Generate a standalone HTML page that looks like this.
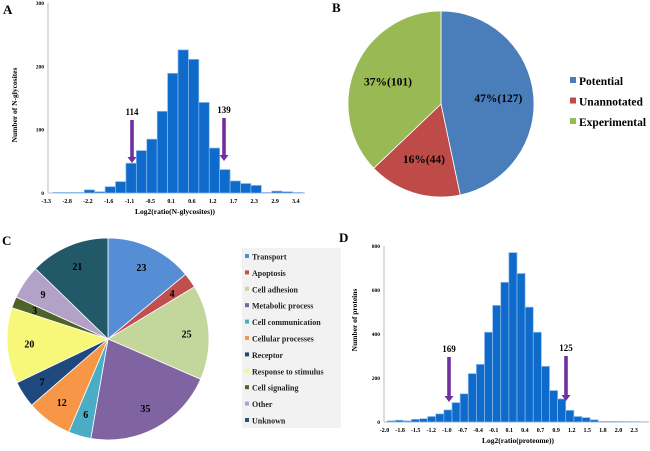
<!DOCTYPE html>
<html><head><meta charset="utf-8"><style>
body{margin:0;background:#fff}
svg{display:block;font-family:"Liberation Serif",serif;font-weight:bold}
</style></head><body>
<svg id="fig" width="650" height="451" viewBox="0 0 650 451"></svg>
<script>
// Panel A data
const aTicks=["-3.3","-2.8","-2.2","-1.6","-1.1","-0.5","0.1","0.6","1.2","1.7","2.3","2.9","3.4"];
const aValues=[1,1,1,5,2,10,18,47,67,85,129,189,226,211,143,71,37,19,15,12,1,3,2,1];
const aYTicks=[0,100,200,300];
// Panel D data
const dTicks=["-2.0","-1.8","-1.5","-1.2","-1.0","-0.7","-0.4","-0.1","0.1","0.4","0.7","0.9","1.2","1.5","1.8","2.0","2.3"];
const dValues=[5,8,5,12,15,25,37,55,88,128,220,262,408,530,635,770,675,522,408,253,143,105,53,25,20,10,3,3,3,2,2,1];
const dYTicks=[0,200,400,600,800];
// Panel B data
const bLabels=["Potential","Unannotated","Experimental"];
const bValues=[127,44,101];
const bText=["47%(127)","16%(44)","37%(101)"];
// Panel C data
const cLabels=["Transport","Apoptosis","Cell adhesion","Metabolic process","Cell communication","Cellular processes","Receptor","Response to stimulus","Cell signaling","Other","Unknown"];
const cValues=[23,4,25,35,6,12,7,20,3,9,21];

const NS="http://www.w3.org/2000/svg";
const svg=document.getElementById('fig');
function mk(tag,attrs,parent,text){const e=document.createElementNS(NS,tag);for(const k in attrs)e.setAttribute(k,attrs[k]);if(text!==undefined)e.textContent=text;(parent||svg).appendChild(e);return e;}

function hist(cfg){
  const g=mk('g',{});
  
  
  const y=v=>cfg.y0-(v/cfg.ymax)*(cfg.y0-cfg.ytop);
  const bw=(cfg.x1-cfg.x0)/cfg.values.length;
  const x=i=>cfg.x0+i*bw;
  const ax=mk('line',{x1:cfg.axX,y1:cfg.ytop,x2:cfg.axX,y2:cfg.y0,stroke:'#bbb','stroke-width':1},g);
  
  const bx=mk('line',{x1:cfg.axX,y1:cfg.y0,x2:cfg.x1+2,y2:cfg.y0,stroke:'#bbb','stroke-width':1},g);
  
  cfg.yTicks.forEach(t=>{
    const tx=mk('text',{x:cfg.axX-4,y:y(t)+2,'text-anchor':'end','font-size':5.5},g,String(t));
    
  });
  cfg.values.forEach((v,i)=>{
    const r=mk('rect',{x:x(i),y:y(v),width:bw,height:cfg.y0-y(v),fill:'#0f6bcb',stroke:'#8fbbea','stroke-width':0.7},g);
    
  });
  cfg.ticks.forEach((t,i)=>{
    const tx=mk('text',{x:cfg.lx0+i*cfg.lstep,y:cfg.ly,'text-anchor':'middle','font-size':cfg.tfs},g,t);
    
  });
  const xt=mk('text',{x:cfg.xtX,y:cfg.xtY,'text-anchor':'middle','font-size':7.5},g,cfg.xtitle);
  
  const yt=mk('text',{x:0,y:0,'text-anchor':'middle','font-size':7.5,transform:`translate(${cfg.ytX},${cfg.ytY}) rotate(-90)`},g,cfg.ytitle);
  
  cfg.arrows.forEach(a=>{
    const ar=mk('g',{},g);
    
    mk('rect',{x:a.x-1.8,y:a.y1,width:3.6,height:a.y2-a.y1-5,fill:'#7030a0'},ar);
    mk('path',{d:`M${a.x-4.5},${a.y2-6} L${a.x+4.5},${a.y2-6} L${a.x},${a.y2} Z`,fill:'#7030a0'},ar);
    mk('text',{x:a.x,y:a.y1-5,'text-anchor':'middle','font-size':9},ar,a.label);
  });
}
hist({name:'histogram-a',values:aValues,ticks:aTicks,yTicks:aYTicks,ymax:300,y0:193,ytop:3,x0:53,x1:303,axX:48,
  lx0:46.3,lstep:20.8,ly:203,tfs:6,xtitle:'Log2(ratio(N-glycosites))',xtX:175,xtY:214,ytitle:'Number of N-glycosites',ytX:17,ytY:105,
  arrows:[{x:132,y1:120,y2:163,label:'114'},{x:224,y1:118,y2:161,label:'139'}]});
hist({name:'histogram-d',values:dValues,ticks:dTicks,yTicks:dYTicks,ymax:800,y0:422,ytop:246,x0:387,x1:647,axX:384,
  lx0:384.5,lstep:15.6,ly:432,tfs:6,xtitle:'Log2(ratio(proteome))',xtX:518,xtY:443,ytitle:'Number of proteins',ytX:357,ytY:320,
  arrows:[{x:449,y1:357,y2:402,label:'169'},{x:566,y1:356,y2:401,label:'125'}]});

function pie(name,cx,cy,r,values,colors,labels,lr,fs,stroke){
  const g=mk('g',{});
  
  const tot=values.reduce((a,b)=>a+b,0);let a0=0;
  values.forEach((v,i)=>{
    const a1=a0+v/tot*2*Math.PI;
    const p=(a)=>[cx+r*Math.sin(a),cy-r*Math.cos(a)];
    const [x0,y0]=p(a0),[x1,y1]=p(a1);
    const s=mk('path',{d:`M${cx},${cy} L${x0},${y0} A${r},${r} 0 ${a1-a0>Math.PI?1:0} 1 ${x1},${y1} Z`,fill:colors[i],stroke:stroke,'stroke-width':0.8},g);
    
    const am=(a0+a1)/2;
    const t=mk('text',{x:cx+lr*r*Math.sin(am),y:cy-lr*r*Math.cos(am)+fs*0.35,'text-anchor':'middle','font-size':fs},g,labels[i]);
    
    a0=a1;
  });
}
const bColors=['#4a7ebb','#be4b48','#98b954'];
pie('pie-b',441,104,93,bValues,bColors,bText,0.62,11.5,'#fff');
const cColors=['#558ed5','#c0504d','#c3d69b','#8064a2','#4bacc6','#f79646','#1f497d','#f7f77a','#4f6228','#b3a2c7','#215968'];
pie('pie-c',108,339,101,cValues,cColors,cValues.map(String),0.78,10,'#fff');

// legend B
const lb=mk('g',{});
bLabels.forEach((l,i)=>{
  const e=mk('g',{},lb);
  mk('rect',{x:570,y:77+i*20.5,width:6,height:6,fill:bColors[i]},e);
  mk('text',{x:579,y:85+i*20.5,'font-size':11.5},e,l);
});
// legend C
const lc=mk('g',{});
mk('rect',{x:242,y:248,width:99,height:180,fill:'#f2f2f2'},lc);
cLabels.forEach((l,i)=>{
  const e=mk('g',{},lc);
  mk('rect',{x:245,y:254+i*16.4,width:4,height:4,fill:cColors[i]},e);
  mk('text',{x:252,y:259.5+i*16.4,'font-size':8,fill:'#222'},e,l);
});
// panel letters
[['A',3,14],['B',332,12],['C',2,245],['D',339,242]].forEach(p=>{
  const t=mk('text',{x:p[1],y:p[2],'font-size':13},svg,p[0]);
  
});
</script>
</body></html>
